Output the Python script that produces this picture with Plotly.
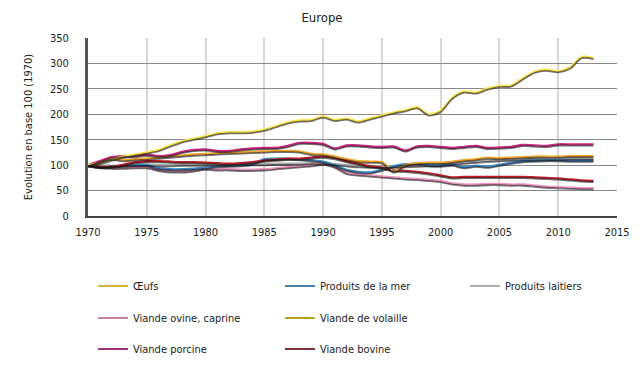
import plotly.graph_objects as go

years = list(range(1970, 2014))

oeufs = [100, 107, 113, 110, 112, 113, 115, 117, 119, 121, 122, 123, 124, 125, 126, 127, 128, 128, 127, 122,
         121, 117, 112, 108, 107, 106, 88, 100, 104, 105, 105, 107, 110, 112, 115, 114, 115, 116, 117, 117,
         117, 118, 118, 118]
mer = [100, 96, 98, 99, 100, 100, 94, 92, 92, 93, 95, 98, 99, 100, 103, 112, 113, 113, 112, 110,
       107, 100, 91, 87, 86, 91, 98, 102, 103, 100, 99, 101, 96, 99, 97, 101, 105, 108, 109, 110,
       110, 109, 109, 109]
laitiers = [100, 99, 99, 100, 101, 101, 100, 100, 101, 101, 101, 101, 101, 102, 102, 102, 103, 103, 103, 104,
            104, 102, 100, 98, 97, 97, 97, 98, 99, 100, 101, 103, 105, 107, 109, 110, 111, 112, 112, 112,
            112, 113, 113, 113]
ovine = [100, 97, 95, 95, 96, 96, 91, 88, 88, 90, 93, 92, 92, 91, 91, 92, 94, 96, 98, 100,
         103, 97, 85, 82, 80, 78, 76, 74, 73, 71, 69, 64, 62, 62, 63, 63, 62, 62, 60, 58,
         57, 56, 55, 55]
volaille = [100, 104, 111, 117, 121, 125, 130, 139, 147, 152, 157, 163, 165, 165, 166, 170, 177, 184, 188, 189,
            196, 189, 192, 186, 192, 198, 204, 208, 214, 200, 207, 233, 245, 243, 251, 256, 257, 271, 284, 288,
            285, 292, 313, 311]
porcine = [100, 108, 116, 118, 118, 121, 118, 120, 126, 130, 131, 128, 128, 131, 133, 134, 134, 138, 144, 144,
           142, 133, 139, 139, 137, 136, 137, 129, 137, 138, 136, 134, 136, 138, 134, 135, 136, 140, 139, 138,
           141, 141, 141, 141]
bovine = [100, 97, 97, 101, 106, 108, 108, 107, 106, 106, 105, 104, 103, 104, 106, 109, 111, 113, 113, 115,
          117, 114, 108, 103, 98, 95, 90, 89, 87, 84, 80, 76, 77, 77, 77, 77, 77, 77, 76, 75,
          74, 72, 70, 69]

series = [
    ("Œufs", oeufs, "#F2A62A", "#D4B43A"),
    ("Produits de la mer", mer, "#3F86C6", "#4A7FA8"),
    ("Produits laitiers", laitiers, "#ABABAB", "#AAAAAA"),
    ("Viande ovine, caprine", ovine, "#EE93BE", "#C87F9A"),
    ("Viande de volaille", volaille, "#FCE64C", "#B8A020"),
    ("Viande porcine", porcine, "#C8287E", "#A03080"),
    ("Viande bovine", bovine, "#B8202A", "#80303A"),
]

# legend layout: (text start px, row center px) in window coordinates
leg_pos = [(134, 286), (321, 286), (506, 286),
           (134, 318), (321, 318),
           (134, 349), (321, 349)]

FONT = "DejaVu Sans Condensed, Liberation Sans Narrow, sans-serif"
OFF = 8  # page body margin
WIN_W, WIN_H = 643, 369
W, H = WIN_W - OFF, WIN_H - OFF
PL, PR, PT, PB = 88, 617, 38, 216   # plot area in window px
L, T = PL - OFF, PT - OFF
R, B = W - (PR - OFF), H - (PB - OFF)
pw, ph = PR - PL, PB - PT

fig = go.Figure()

draw_order = [2, 3, 1, 6, 0, 5, 4]
for i in draw_order:
    name, vals, col, lcol = series[i]
    fig.add_trace(go.Scatter(x=years, y=vals, mode="lines", yaxis="y2",
                             line=dict(color="rgba(20,20,20,0.6)", width=1.8, shape="spline", smoothing=0.8),
                             showlegend=False, hoverinfo="skip"))
for i in draw_order:
    name, vals, col, lcol = series[i]
    fig.add_trace(go.Scatter(x=years, y=vals, mode="lines", name=name,
                             line=dict(color=col, width=2.2, shape="spline", smoothing=0.8),
                             showlegend=False))

legends = {}
for k, (name, vals, col, lcol) in enumerate(series):
    key = "legend" if k == 0 else f"legend{k+1}"
    tx, ty = leg_pos[k]
    fig.add_trace(go.Scatter(x=[None], y=[None], mode="lines", name=name,
                             line=dict(color=lcol, width=2), legend=key, showlegend=True))
    legends[key] = dict(x=(tx - 41 - PL) / pw, y=(PB - ty) / ph, xanchor="left", yanchor="middle",
                        orientation="h", bgcolor="rgba(0,0,0,0)",
                        font=dict(family=FONT, size=11, color="#222"))

fig.update_layout(
    width=W, height=H,
    margin=dict(l=L, r=R, t=T, b=B, autoexpand=False),
    paper_bgcolor="white", plot_bgcolor="white",
    font=dict(family=FONT, size=11, color="#222"),
    title=dict(text="Europe", x=(322 - PL) / pw, xref="paper", xanchor="center",
               y=1 - (17 - OFF) / H, yanchor="middle",
               font=dict(family=FONT, size=13, color="#222")),
    xaxis=dict(range=[1970, 2015], tickmode="linear", tick0=1970, dtick=5,
               showgrid=True, gridcolor="#D6D6D6", gridwidth=1.5,
               showline=True, linecolor="#444", linewidth=2,
               ticks="", ticklabelstandoff=5, zeroline=False, automargin=False,
               tickfont=dict(family=FONT, size=11, color="#222")),
    yaxis=dict(range=[0, 350], tickmode="linear", tick0=0, dtick=50,
               showgrid=True, gridcolor="#8A8A8A", gridwidth=1.2,
               showline=True, linecolor="#555", linewidth=3,
               ticks="", ticklabelstandoff=14, zeroline=False, automargin=False,
               title=dict(text="Evolution en base 100 (1970)", standoff=16,
                          font=dict(family=FONT, size=11, color="#222")),
               tickfont=dict(family=FONT, size=11, color="#222")),
    yaxis2=dict(range=[2.5, 352.5], overlaying="y", visible=False),
    **legends,
)

fig.write_html("out.html")
